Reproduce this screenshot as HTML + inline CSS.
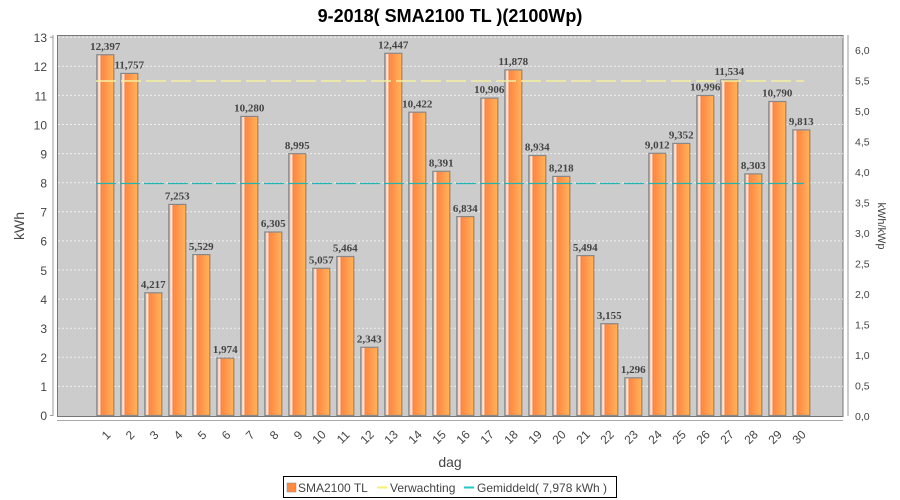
<!DOCTYPE html>
<html><head><meta charset="utf-8"><style>
body{margin:0;background:#fff;}
svg{display:block;font-family:"Liberation Sans",sans-serif;}
.v{font-family:"Liberation Serif",serif;font-weight:bold;font-size:11px;fill:#444;text-anchor:middle;}
.t{font-size:12px;fill:#444;}
.r{font-size:10.5px;fill:#444;}
</style></head><body>
<svg width="900" height="500" viewBox="0 0 900 500">
<defs>
<linearGradient id="g" x1="0" x2="1" y1="0" y2="0">
<stop offset="0" stop-color="#ff7a38"/><stop offset="0.15" stop-color="#fff"/><stop offset="0.25" stop-color="#ff8640"/><stop offset="1" stop-color="#ffb45c"/>
</linearGradient>
</defs>
<text x="450" y="22" text-anchor="middle" font-size="18" font-weight="bold" fill="#000">9-2018( SMA2100 TL )(2100Wp)</text>
<rect x="57.5" y="35.5" width="785.5" height="381" fill="#cccccc" stroke="#777"/>
<g stroke="#eee" stroke-dasharray="2,2" stroke-width="1">
<line x1="58" x2="843" y1="386.4" y2="386.4"/><line x1="58" x2="843" y1="357.3" y2="357.3"/><line x1="58" x2="843" y1="328.2" y2="328.2"/><line x1="58" x2="843" y1="299.1" y2="299.1"/><line x1="58" x2="843" y1="270" y2="270"/><line x1="58" x2="843" y1="240.9" y2="240.9"/><line x1="58" x2="843" y1="211.8" y2="211.8"/><line x1="58" x2="843" y1="182.7" y2="182.7"/><line x1="58" x2="843" y1="153.6" y2="153.6"/><line x1="58" x2="843" y1="124.5" y2="124.5"/><line x1="58" x2="843" y1="95.4" y2="95.4"/><line x1="58" x2="843" y1="66.3" y2="66.3"/><line x1="58" x2="843" y1="37.2" y2="37.2"/>
</g>
<g fill="url(#g)" stroke="#888" stroke-width="1.2">
<rect x="96.8" y="54.75" width="17" height="360.75"/>
<rect x="120.8" y="73.4" width="17" height="342.1"/>
<rect x="144.8" y="292.8" width="17" height="122.7"/>
<rect x="168.8" y="204.4" width="17" height="211.1"/>
<rect x="192.8" y="254.6" width="17" height="160.9"/>
<rect x="216.8" y="358.1" width="17" height="57.4"/>
<rect x="240.8" y="116.4" width="17" height="299.1"/>
<rect x="264.8" y="232" width="17" height="183.5"/>
<rect x="288.8" y="153.7" width="17" height="261.8"/>
<rect x="312.8" y="268.3" width="17" height="147.2"/>
<rect x="336.8" y="256.5" width="17" height="159"/>
<rect x="360.8" y="347.3" width="17" height="68.2"/>
<rect x="384.8" y="53.3" width="17" height="362.2"/>
<rect x="408.8" y="112.2" width="17" height="303.3"/>
<rect x="432.8" y="171.3" width="17" height="244.2"/>
<rect x="456.8" y="216.6" width="17" height="198.9"/>
<rect x="480.8" y="98.1" width="17" height="317.4"/>
<rect x="504.8" y="69.9" width="17" height="345.6"/>
<rect x="528.8" y="155.5" width="17" height="260"/>
<rect x="552.8" y="176.4" width="17" height="239.1"/>
<rect x="576.8" y="255.6" width="17" height="159.9"/>
<rect x="600.8" y="323.7" width="17" height="91.8"/>
<rect x="624.8" y="377.8" width="17" height="37.7"/>
<rect x="648.8" y="153.3" width="17" height="262.2"/>
<rect x="672.8" y="143.4" width="17" height="272.1"/>
<rect x="696.8" y="95.5" width="17" height="320"/>
<rect x="720.8" y="79.9" width="17" height="335.6"/>
<rect x="744.8" y="173.9" width="17" height="241.6"/>
<rect x="768.8" y="101.5" width="17" height="314"/>
<rect x="792.8" y="129.9" width="17" height="285.6"/>
</g>
<line x1="96" x2="804" y1="81" y2="81" stroke="#f5f0a0" stroke-width="1.5" stroke-dasharray="20,5"/>
<line x1="96" x2="804" y1="183.5" y2="183.5" stroke="#20b4b4" stroke-width="1.2" stroke-dasharray="20,4"/>
<g class="v">
<text x="105.3" y="50">12,397</text><text x="129.3" y="68.5">11,757</text><text x="153.3" y="288">4,217</text><text x="177.3" y="199.5">7,253</text><text x="201.3" y="250">5,529</text><text x="225.3" y="353">1,974</text><text x="249.3" y="111.5">10,280</text><text x="273.3" y="227">6,305</text><text x="297.3" y="149">8,995</text><text x="321.3" y="263.5">5,057</text><text x="345.3" y="251.5">5,464</text><text x="369.3" y="342.5">2,343</text><text x="393.3" y="48.5">12,447</text><text x="417.3" y="107.5">10,422</text><text x="441.3" y="166.5">8,391</text><text x="465.3" y="212">6,834</text><text x="489.3" y="93">10,906</text><text x="513.3" y="65">11,878</text><text x="537.3" y="150.5">8,934</text><text x="561.3" y="171.5">8,218</text><text x="585.3" y="251">5,494</text><text x="609.3" y="319">3,155</text><text x="633.3" y="373">1,296</text><text x="657.3" y="148.5">9,012</text><text x="681.3" y="138.5">9,352</text><text x="705.3" y="90.5">10,996</text><text x="729.3" y="75">11,534</text><text x="753.3" y="169">8,303</text><text x="777.3" y="96.5">10,790</text><text x="801.3" y="125">9,813</text>
</g>
<line x1="53" x2="53" y1="35" y2="416" stroke="#999"/>
<g stroke="#999"><line x1="50" x2="53" y1="415.5" y2="415.5"/><line x1="50" x2="53" y1="37.2" y2="37.2"/></g>
<g class="t" text-anchor="end">
<text x="47" y="420">0</text><text x="47" y="391">1</text><text x="47" y="362">2</text><text x="47" y="333">3</text><text x="47" y="304">4</text><text x="47" y="275">5</text><text x="47" y="245.5">6</text><text x="47" y="216.5">7</text><text x="47" y="187.5">8</text><text x="47" y="158.5">9</text><text x="47" y="129.5">10</text><text x="47" y="100.5">11</text><text x="47" y="71">12</text><text x="47" y="42">13</text>
</g>
<text transform="translate(24,226) rotate(-90)" text-anchor="middle" font-size="14" fill="#444">kWh</text>
<line x1="848" x2="848" y1="35" y2="416" stroke="#999"/>
<g class="r">
<text x="855" y="420">0,0</text><text x="855" y="389.5">0,5</text><text x="855" y="359">1,0</text><text x="855" y="328.5">1,5</text><text x="855" y="298">2,0</text><text x="855" y="267.5">2,5</text><text x="855" y="237">3,0</text><text x="855" y="206.5">3,5</text><text x="855" y="176">4,0</text><text x="855" y="145.5">4,5</text><text x="855" y="115">5,0</text><text x="855" y="84.5">5,5</text><text x="855" y="54">6,0</text>
</g>
<text transform="translate(878,226) rotate(90)" text-anchor="middle" font-size="11" fill="#444">kWh/kWp</text>
<line x1="57" x2="843" y1="420.5" y2="420.5" stroke="#aaa"/>
<g class="t" font-size="11.5">
<text transform="translate(109,438) rotate(-45)" text-anchor="middle">1</text><text transform="translate(133,438) rotate(-45)" text-anchor="middle">2</text><text transform="translate(157,438) rotate(-45)" text-anchor="middle">3</text><text transform="translate(181,438) rotate(-45)" text-anchor="middle">4</text><text transform="translate(205,438) rotate(-45)" text-anchor="middle">5</text><text transform="translate(229,438) rotate(-45)" text-anchor="middle">6</text><text transform="translate(253,438) rotate(-45)" text-anchor="middle">7</text><text transform="translate(277,438) rotate(-45)" text-anchor="middle">8</text><text transform="translate(301,438) rotate(-45)" text-anchor="middle">9</text><text transform="translate(322,440) rotate(-45)" text-anchor="middle">10</text><text transform="translate(346,440) rotate(-45)" text-anchor="middle">11</text><text transform="translate(370,440) rotate(-45)" text-anchor="middle">12</text><text transform="translate(394,440) rotate(-45)" text-anchor="middle">13</text><text transform="translate(418,440) rotate(-45)" text-anchor="middle">14</text><text transform="translate(442,440) rotate(-45)" text-anchor="middle">15</text><text transform="translate(466,440) rotate(-45)" text-anchor="middle">16</text><text transform="translate(490,440) rotate(-45)" text-anchor="middle">17</text><text transform="translate(514,440) rotate(-45)" text-anchor="middle">18</text><text transform="translate(538,440) rotate(-45)" text-anchor="middle">19</text><text transform="translate(562,440) rotate(-45)" text-anchor="middle">20</text><text transform="translate(586,440) rotate(-45)" text-anchor="middle">21</text><text transform="translate(610,440) rotate(-45)" text-anchor="middle">22</text><text transform="translate(634,440) rotate(-45)" text-anchor="middle">23</text><text transform="translate(658,440) rotate(-45)" text-anchor="middle">24</text><text transform="translate(682,440) rotate(-45)" text-anchor="middle">25</text><text transform="translate(706,440) rotate(-45)" text-anchor="middle">26</text><text transform="translate(730,440) rotate(-45)" text-anchor="middle">27</text><text transform="translate(754,440) rotate(-45)" text-anchor="middle">28</text><text transform="translate(778,440) rotate(-45)" text-anchor="middle">29</text><text transform="translate(802,440) rotate(-45)" text-anchor="middle">30</text>
</g>
<text x="450" y="467" text-anchor="middle" font-size="14" fill="#444">dag</text>
<rect x="283.5" y="476.5" width="333" height="21" fill="#fff" stroke="#000"/>
<rect x="287" y="483" width="9" height="9" fill="#ff8a40" stroke="#888" stroke-width="0.5"/>
<text x="298" y="492" font-size="12" fill="#444">SMA2100 TL</text>
<line x1="377" x2="387" y1="487.5" y2="487.5" stroke="#f5f070" stroke-width="2"/>
<text x="390" y="492" font-size="12" fill="#444">Verwachting</text>
<line x1="464" x2="474" y1="487.5" y2="487.5" stroke="#20c8c8" stroke-width="2"/>
<text x="477" y="492" font-size="12" fill="#444">Gemiddeld( 7,978 kWh )</text>
</svg>
</body></html>
